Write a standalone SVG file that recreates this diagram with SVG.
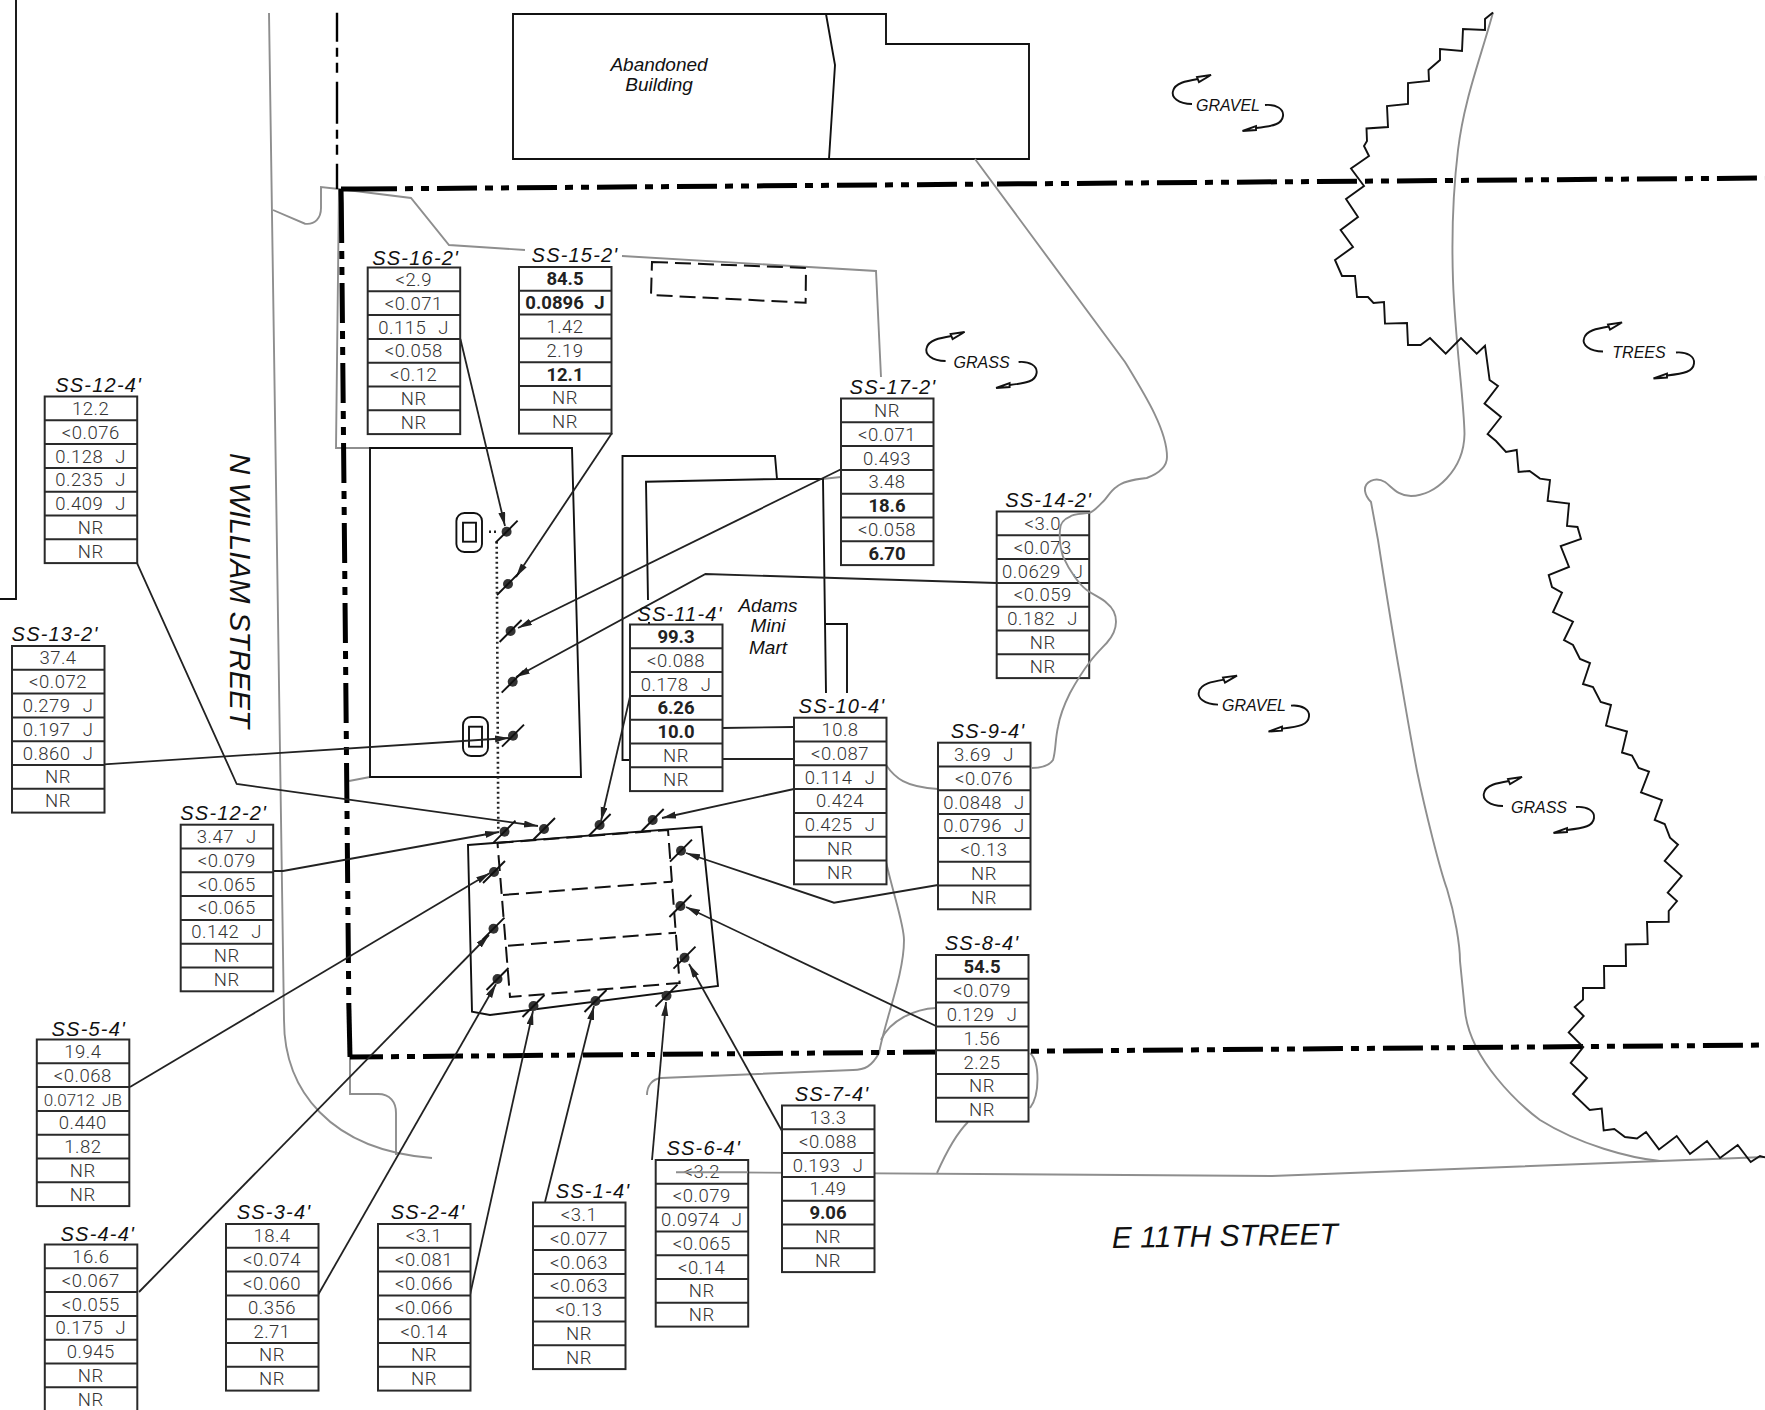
<svg xmlns="http://www.w3.org/2000/svg" width="1765" height="1410" viewBox="0 0 1765 1410">
<style>
text{font-family:"Roboto","Liberation Sans",sans-serif;fill:#333}
.v{font-weight:300;font-size:18.5px;text-anchor:middle;letter-spacing:.5px;word-spacing:7px}
.b{font-weight:700;font-size:18.5px;text-anchor:middle;fill:#222;word-spacing:6px}
.n{font-weight:300;font-size:17px;text-anchor:middle;word-spacing:3px}
.h,.lab,.road{font-family:"Liberation Sans",sans-serif;font-style:italic;fill:#111}
.h{font-size:20px;text-anchor:middle;letter-spacing:1.2px}
.lab{font-size:16px;text-anchor:middle}
.road{font-size:30px}
.grid{fill:#fff;stroke:#2a2a2a;stroke-width:2}
.k{fill:none;stroke:#111;stroke-width:1.9}
.g{fill:none;stroke:#8e8e8e;stroke-width:1.9}
.d{fill:none;stroke:#111;stroke-width:2;stroke-dasharray:16 7}
.bd{fill:none;stroke:#000;stroke-width:5;stroke-dasharray:40 8 8 8 8 8}
.bs{fill:none;stroke:#000;stroke-width:5}
.l{fill:none;stroke:#222;stroke-width:1.8;marker-end:url(#ah)}
.l0{fill:none;stroke:#222;stroke-width:1.8}
</style>
<defs>
<marker id="ah" markerUnits="userSpaceOnUse" markerWidth="16" markerHeight="8" refX="14" refY="3.5" orient="auto"><path d="M0,0L14,3.5L0,7z" fill="#222"/></marker>
<g id="tbl"><rect class="grid" width="92.5" height="166.6"/><path class="grid" d="M0,23.8H92.5M0,47.6H92.5M0,71.4H92.5M0,95.2H92.5M0,119H92.5M0,142.8H92.5"/></g>
<g id="pt"><circle r="5" fill="#333"/><path d="M-11,11L11,-11" stroke="#111" stroke-width="1.9"/></g>
<g id="curl"><path class="k" d="M-36,-1C-50,-1-57,-8-55,-14C-53,-22-42,-24-30,-26"/><path class="k" style="fill:#fff" d="M-17,-30L-31,-28L-29,-23z"/><path class="k" d="M37,0C48,-1 56,4 55,11C54,19 46,21 28,23"/><path class="k" style="fill:#fff" d="M14.5,26L28,21L28,25z"/></g>
</defs>
<g id="site">
<path class="k" d="M16,0V599H0"/>
<path class="k" d="M513,14H886V44H1029V159H513Z"/>
<path class="k" d="M826,14L835,65L829,159"/>
<path class="g" d="M269,13L284,1020C284,1090 330,1150 432,1158"/>
<path class="g" d="M273,210L305,223.7C315,225 321,218 321,208V187L339,189L411,198L449,245L525,250M622,256L876,271L881,377"/>
<path class="g" d="M339,189L336,448H370M349,781L370,777"/>
<path class="g" d="M350,1057V1094H378C390,1094 396,1102 396,1113V1155"/>
<path class="g" d="M886,765C895,778 905,787 938,789"/>
<path class="g" d="M886,862C895,900 904,925 904,940C904,975 885,1020 879,1053C872,1066 865,1070 853,1070L661,1078C652,1079 647,1086 647,1095"/>
<path class="g" d="M936,1008C915,1009 890,1020 881,1040"/>
<path class="g" d="M1030,1053C1040,1062 1040,1095 1030,1108"/>
<path class="g" d="M968,1122C955,1135 945,1155 937,1173"/>
<path class="g" d="M676,1172L1272,1176L1765,1157"/>
<path class="g" d="M822,479L841,477"/>
<path class="g" d="M1493,12.5C1480,60 1464,100 1458,150C1452,200 1452,250 1453,280C1455,340 1464,400 1464.5,434C1464,470 1435,496 1411,496C1398,496 1392,487 1385,482C1375,476 1364,482 1365,491C1366,497 1369,500 1371,502L1378,540C1385,585 1392,630 1400,675C1406,710 1411,740 1417,771C1425,810 1440,870 1447,889C1455,915 1460,945 1460,961L1465,1011C1470,1060 1520,1105 1540,1120C1580,1145 1630,1158 1660,1161"/>
<path d="M337,12.7V189" fill="none" stroke="#000" stroke-width="2.4" stroke-dasharray="42 6 9 6 10 9" stroke-dashoffset="13"/>
<path class="bs" d="M341,189L341.3,203M341,189H357"/>
<path class="bd" d="M341.3,203L348.8,1003"/>
<path class="bs" d="M348.8,1003L350,1057"/>
<path class="bd" d="M357,189L1805,177.7"/>
<path class="bd" style="stroke-dashoffset:7" d="M350,1057L1805,1044.7"/>
<path d="M1493,12.5L1485,19V30L1463,29L1462,51L1440,49V60L1428.5,70L1429,81L1408,83V104L1387,106L1388,127L1366.5,128.5L1367,141L1364,146L1369,156L1351,168.5L1364,186L1346,199L1358,217L1340.6,230L1353,247L1335,260L1342,276H1355L1357,297H1368L1373.5,303L1384,302L1385,323.6L1407,323L1408,345H1420.6L1430,338L1445.7,353.6L1461,338L1476.7,353.6L1485,345.7L1489.6,380L1498,386L1484.5,403.6L1501,417L1487.6,434L1496,441L1506,452L1516.7,450L1518.6,472L1529.6,471L1540,478.6L1550,480L1547.6,501L1569,503.6L1567,526L1577.5,527L1581,539L1560.7,546L1569,567L1548.7,575L1552,587L1562,592.6L1553,612L1573,621.6L1564,640L1573,645L1580,659L1590,663L1583,684L1593,687L1600.7,702L1611,705L1606,725.6L1627,731.5L1622,752.5L1632,755.5L1638.7,768L1649,771.5L1641,792.5L1662,800L1654.7,820L1664.7,824L1670,837.6L1678,844.7L1664.7,861L1681.7,876L1667.7,892.7L1677,901L1668.7,911V921.7L1647,922L1647.7,944L1625.7,944.5L1626,966H1604L1604.3,988H1583V999.6L1574.7,1007L1583.7,1016L1568.7,1032.4L1583.3,1047L1570.7,1063L1587,1078L1573,1094L1589.7,1110L1601.7,1108.6L1603.7,1130.5L1614.3,1129L1625,1137L1637,1138.5L1646,1132L1659,1149.4L1676.7,1136L1690,1154L1707,1141L1720,1158L1737.7,1145L1750.7,1162L1760,1156L1765,1157.4" class="k"/>
<path class="k" d="M370,777V448H572L581,777Z"/>
<path class="k" d="M648,600L646,481.7L777,479L775,456H622.5V760H630M777,479H823L826,693M649,622V624M826,624H847V693"/>
<path class="d" d="M652,262L806,268L805.6,302.7L651,295Z"/>
<path class="k" d="M468,845L701.6,826.7L718,986L490,1015L472,1011.7Z"/>
<path class="d" d="M497.5,843L668,830L679.6,983L510,997Z"/>
<path class="d" d="M503,895L672,881.7M508,945.7L676,932.7"/>
<rect class="k" x="456.4" y="513" width="25.6" height="39" rx="8"/><rect class="k" x="463" y="522.7" width="13" height="19"/>
<rect class="k" x="463" y="717" width="25" height="39" rx="8"/><rect class="k" x="469" y="726.7" width="13" height="20"/>
<path d="M496.7,541.7L498.3,830M489,531.7H498" fill="none" stroke="#222" stroke-width="2.6" stroke-dasharray="2 3"/>
<text class="lab" style="font-size:19px" transform="translate(659,71)">Abandoned</text>
<text class="lab" style="font-size:19px" transform="translate(659,91)">Building</text>
<text class="lab" style="font-size:19px" x="768" y="612">Adams</text>
<text class="lab" style="font-size:19px" x="768" y="632">Mini</text>
<text class="lab" style="font-size:19px" x="768" y="654">Mart</text>
<text class="road" transform="translate(230,453) rotate(90)" textLength="275" lengthAdjust="spacingAndGlyphs">N WILLIAM STREET</text>
<text class="road" transform="translate(1112,1248) rotate(-1)" textLength="226" lengthAdjust="spacingAndGlyphs">E 11TH STREET</text>
<use href="#curl" x="1228" y="105"/><text class="lab" x="1228" y="111">GRAVEL</text>
<use href="#curl" x="1639" y="352.5"/><text class="lab" x="1639" y="358">TREES</text>
<use href="#curl" x="981.6" y="362"/><text class="lab" x="981.6" y="368">GRASS</text>
<use href="#curl" x="1254" y="705.6"/><text class="lab" x="1254" y="711">GRAVEL</text>
<use href="#curl" x="1539" y="807"/><text class="lab" x="1539" y="813">GRASS</text>
</g>
<g id="connectors">
<path class="l" d="M460.4,339L505,526"/>
<path class="l" d="M612,433L516,577"/>
<path class="l" d="M841,469.3L518,628"/>
<path class="l" d="M997,583L705.5,574L516,677"/>
<path class="l" d="M104,764.3L509,738"/>
<path class="l" d="M136.7,562.3L236.7,784L538,826"/>
<path class="l" d="M273,871H283L499,832"/>
<path class="l" d="M130,1087L490,873"/>
<path class="l" d="M139,1292L489,935"/>
<path class="l" d="M318,1295L496,984"/>
<path class="l" d="M470,1295L533,1011"/>
<path class="l" d="M545,1202L594,1006"/>
<path class="l" d="M652,1160L666,1002"/>
<path class="l" d="M782,1131L689,964"/>
<path class="l" d="M936,1026L686,907"/>
<path class="l" d="M938,885L834,902.7L686,853"/>
<path class="l" d="M794,789L662,818"/>
<path class="l" d="M630,696.7L601,821"/>
<path class="l0" d="M722,728L794,727M722,759H794"/>
</g>
<g id="sample-points">
<use href="#pt" x="506.6" y="531.7"/><use href="#pt" x="508" y="584"/><use href="#pt" x="510.6" y="631"/><use href="#pt" x="512.7" y="681.7"/><use href="#pt" x="513" y="735.7"/>
<use href="#pt" x="504.5" y="831.7"/><use href="#pt" x="544" y="829"/><use href="#pt" x="599.6" y="825"/><use href="#pt" x="652.7" y="820"/><use href="#pt" x="681" y="850.7"/><use href="#pt" x="680.4" y="906"/><use href="#pt" x="684.5" y="957.7"/><use href="#pt" x="666.5" y="995.7"/><use href="#pt" x="595.5" y="1001"/><use href="#pt" x="533.5" y="1006"/><use href="#pt" x="497.5" y="979"/><use href="#pt" x="493.5" y="928.7"/><use href="#pt" x="494" y="872"/>
</g>
<g id="ss-16" transform="translate(367.7,267.5)"><use href="#tbl"/><text class="h" x="48" y="-3">SS-16-2'</text><text class="v" x="46" y="18.4">&lt;2.9</text><text class="v" x="46" y="42.2">&lt;0.071</text><text class="v" x="46" y="66">0.115 J</text><text class="v" x="46" y="89.8">&lt;0.058</text><text class="v" x="46" y="113.6">&lt;0.12</text><text class="v" x="46" y="137.4">NR</text><text class="v" x="46" y="161.2">NR</text></g>
<g id="ss-15" transform="translate(519,267)"><use href="#tbl"/><text class="h" x="56" y="-5">SS-15-2'</text><text class="b" x="46" y="18.4">84.5</text><text class="b" x="46" y="42.2">0.0896 J</text><text class="v" x="46" y="66">1.42</text><text class="v" x="46" y="89.8">2.19</text><text class="b" x="46" y="113.6">12.1</text><text class="v" x="46" y="137.4">NR</text><text class="v" x="46" y="161.2">NR</text></g>
<g id="ss-17" transform="translate(841,398.5)"><use href="#tbl"/><text class="h" x="52" y="-5">SS-17-2'</text><text class="v" x="46" y="18.4">NR</text><text class="v" x="46" y="42.2">&lt;0.071</text><text class="v" x="46" y="66">0.493</text><text class="v" x="46" y="89.8">3.48</text><text class="b" x="46" y="113.6">18.6</text><text class="v" x="46" y="137.4">&lt;0.058</text><text class="b" x="46" y="161.2">6.70</text></g>
<g id="ss-14" transform="translate(996.7,511.5)"><use href="#tbl"/><text class="h" x="52" y="-5">SS-14-2'</text><text class="v" x="46" y="18.4">&lt;3.0</text><text class="v" x="46" y="42.2">&lt;0.073</text><text class="v" x="46" y="66">0.0629 J</text><text class="v" x="46" y="89.8">&lt;0.059</text><text class="v" x="46" y="113.6">0.182 J</text><text class="v" x="46" y="137.4">NR</text><text class="v" x="46" y="161.2">NR</text></g>
<g id="ss-12-4" transform="translate(44.7,396.5)"><use href="#tbl"/><text class="h" x="54" y="-5">SS-12-4'</text><text class="v" x="46" y="18.4">12.2</text><text class="v" x="46" y="42.2">&lt;0.076</text><text class="v" x="46" y="66">0.128 J</text><text class="v" x="46" y="89.8">0.235 J</text><text class="v" x="46" y="113.6">0.409 J</text><text class="v" x="46" y="137.4">NR</text><text class="v" x="46" y="161.2">NR</text></g>
<g id="ss-13" transform="translate(12,646)"><use href="#tbl"/><text class="h" x="43" y="-5">SS-13-2'</text><text class="v" x="46" y="18.4">37.4</text><text class="v" x="46" y="42.2">&lt;0.072</text><text class="v" x="46" y="66">0.279 J</text><text class="v" x="46" y="89.8">0.197 J</text><text class="v" x="46" y="113.6">0.860 J</text><text class="v" x="46" y="137.4">NR</text><text class="v" x="46" y="161.2">NR</text></g>
<g id="ss-11" transform="translate(630,624.5)"><use href="#tbl"/><text class="h" x="50" y="-4">SS-11-4'</text><text class="b" x="46" y="18.4">99.3</text><text class="v" x="46" y="42.2">&lt;0.088</text><text class="v" x="46" y="66">0.178 J</text><text class="b" x="46" y="89.8">6.26</text><text class="b" x="46" y="113.6">10.0</text><text class="v" x="46" y="137.4">NR</text><text class="v" x="46" y="161.2">NR</text></g>
<g id="ss-10" transform="translate(794,717.7)"><use href="#tbl"/><text class="h" x="48" y="-5">SS-10-4'</text><text class="v" x="46" y="18.4">10.8</text><text class="v" x="46" y="42.2">&lt;0.087</text><text class="v" x="46" y="66">0.114 J</text><text class="v" x="46" y="89.8">0.424</text><text class="v" x="46" y="113.6">0.425 J</text><text class="v" x="46" y="137.4">NR</text><text class="v" x="46" y="161.2">NR</text></g>
<g id="ss-9" transform="translate(938,742.7)"><use href="#tbl"/><text class="h" x="50" y="-5">SS-9-4'</text><text class="v" x="46" y="18.4">3.69 J</text><text class="v" x="46" y="42.2">&lt;0.076</text><text class="v" x="46" y="66">0.0848 J</text><text class="v" x="46" y="89.8">0.0796 J</text><text class="v" x="46" y="113.6">&lt;0.13</text><text class="v" x="46" y="137.4">NR</text><text class="v" x="46" y="161.2">NR</text></g>
<g id="ss-12-2" transform="translate(180.7,824.7)"><use href="#tbl"/><text class="h" x="43" y="-5">SS-12-2'</text><text class="v" x="46" y="18.4">3.47 J</text><text class="v" x="46" y="42.2">&lt;0.079</text><text class="v" x="46" y="66">&lt;0.065</text><text class="v" x="46" y="89.8">&lt;0.065</text><text class="v" x="46" y="113.6">0.142 J</text><text class="v" x="46" y="137.4">NR</text><text class="v" x="46" y="161.2">NR</text></g>
<g id="ss-8" transform="translate(936,955)"><use href="#tbl"/><text class="h" x="46" y="-5">SS-8-4'</text><text class="b" x="46" y="18.4">54.5</text><text class="v" x="46" y="42.2">&lt;0.079</text><text class="v" x="46" y="66">0.129 J</text><text class="v" x="46" y="89.8">1.56</text><text class="v" x="46" y="113.6">2.25</text><text class="v" x="46" y="137.4">NR</text><text class="v" x="46" y="161.2">NR</text></g>
<g id="ss-5" transform="translate(36.8,1039.5)"><use href="#tbl"/><text class="h" x="52" y="-4">SS-5-4'</text><text class="v" x="46" y="18.4">19.4</text><text class="v" x="46" y="42.2">&lt;0.068</text><text class="n" x="46" y="66">0.0712 JB</text><text class="v" x="46" y="89.8">0.440</text><text class="v" x="46" y="113.6">1.82</text><text class="v" x="46" y="137.4">NR</text><text class="v" x="46" y="161.2">NR</text></g>
<g id="ss-4" transform="translate(44.8,1244.5)"><use href="#tbl"/><text class="h" x="53" y="-4">SS-4-4'</text><text class="v" x="46" y="18.4">16.6</text><text class="v" x="46" y="42.2">&lt;0.067</text><text class="v" x="46" y="66">&lt;0.055</text><text class="v" x="46" y="89.8">0.175 J</text><text class="v" x="46" y="113.6">0.945</text><text class="v" x="46" y="137.4">NR</text><text class="v" x="46" y="161.2">NR</text></g>
<g id="ss-3" transform="translate(226,1224)"><use href="#tbl"/><text class="h" x="48" y="-5">SS-3-4'</text><text class="v" x="46" y="18.4">18.4</text><text class="v" x="46" y="42.2">&lt;0.074</text><text class="v" x="46" y="66">&lt;0.060</text><text class="v" x="46" y="89.8">0.356</text><text class="v" x="46" y="113.6">2.71</text><text class="v" x="46" y="137.4">NR</text><text class="v" x="46" y="161.2">NR</text></g>
<g id="ss-2" transform="translate(378,1224)"><use href="#tbl"/><text class="h" x="50" y="-5">SS-2-4'</text><text class="v" x="46" y="18.4">&lt;3.1</text><text class="v" x="46" y="42.2">&lt;0.081</text><text class="v" x="46" y="66">&lt;0.066</text><text class="v" x="46" y="89.8">&lt;0.066</text><text class="v" x="46" y="113.6">&lt;0.14</text><text class="v" x="46" y="137.4">NR</text><text class="v" x="46" y="161.2">NR</text></g>
<g id="ss-1" transform="translate(533,1202.5)"><use href="#tbl"/><text class="h" x="60" y="-5">SS-1-4'</text><text class="v" x="46" y="18.4">&lt;3.1</text><text class="v" x="46" y="42.2">&lt;0.077</text><text class="v" x="46" y="66">&lt;0.063</text><text class="v" x="46" y="89.8">&lt;0.063</text><text class="v" x="46" y="113.6">&lt;0.13</text><text class="v" x="46" y="137.4">NR</text><text class="v" x="46" y="161.2">NR</text></g>
<g id="ss-6" transform="translate(655.7,1160)"><use href="#tbl"/><text class="h" x="48" y="-5">SS-6-4'</text><text class="v" x="46" y="18.4">&lt;3.2</text><text class="v" x="46" y="42.2">&lt;0.079</text><text class="v" x="46" y="66">0.0974 J</text><text class="v" x="46" y="89.8">&lt;0.065</text><text class="v" x="46" y="113.6">&lt;0.14</text><text class="v" x="46" y="137.4">NR</text><text class="v" x="46" y="161.2">NR</text></g>
<g id="ss-7" transform="translate(782,1105.5)"><use href="#tbl"/><text class="h" x="50" y="-5">SS-7-4'</text><text class="v" x="46" y="18.4">13.3</text><text class="v" x="46" y="42.2">&lt;0.088</text><text class="v" x="46" y="66">0.193 J</text><text class="v" x="46" y="89.8">1.49</text><text class="b" x="46" y="113.6">9.06</text><text class="v" x="46" y="137.4">NR</text><text class="v" x="46" y="161.2">NR</text></g>
<g id="overlay">
<path class="g" d="M676,1172.3H748"/>
<path class="g" d="M975,159L1125,362C1145,395 1167,430 1167,457C1167,466 1160,473 1146.7,478C1130,480 1122,482 1116.7,486.7C1110,491 1108,497 1103,501.7C1098,507 1094,511 1090,512.7C1080,514 1072,514 1070,516.7C1062,520 1060,525 1060,530C1059,540 1061,550 1063,556.7C1070,572 1080,585 1086.7,590C1095,596 1102,598 1106.7,603C1113,608 1116,615 1116,621.7C1116,630 1112,637 1106.7,643C1100,650 1095,655 1090,661.7C1082,672 1076,682 1070,693C1064,705 1060,715 1058,727C1055,740 1056,750 1053,760C1049,766 1040,768 1031.7,768"/>
</g>
</svg>
